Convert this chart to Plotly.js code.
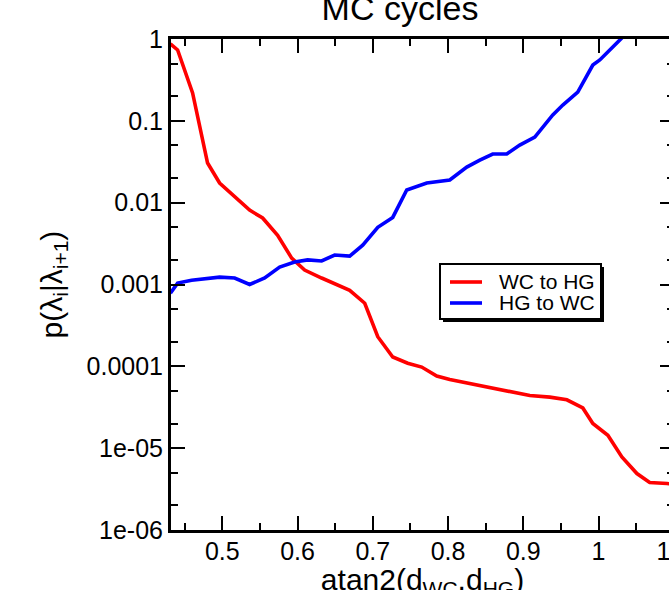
<!DOCTYPE html>
<html>
<head>
<meta charset="utf-8">
<script src="https://cdn.plot.ly/plotly-3.0.1.min.js"></script>
<style>html,body{margin:0;padding:0;overflow:hidden;background:#fff}</style>
</head>
<body>
<div id="chart" style="width:700px;height:600px"></div>
<script>
// WC to HG series
const wcX = [0.431,0.4406,0.4605,0.4738,0.4804,0.4964,0.5164,0.5363,0.5536,0.5735,0.5922,0.6094,0.632,0.6467,0.6693,0.6893,0.7066,0.7265,0.7464,0.765,0.785,0.8023,0.8382,0.8727,0.9087,0.9353,0.9579,0.9791,0.9924,1.0124,1.031,1.051,1.068,1.091,1.1];
const wcY = [0.87,0.734,0.219,0.0582,0.0305,0.0174,0.0117,0.0081,0.0065,0.0040,0.0021,0.0015,0.0012,0.00104,0.00085,0.00059,0.00023,0.00013,0.000109,9.8e-5,7.6e-5,6.9e-5,5.9e-5,5.2e-5,4.4e-5,4.2e-5,3.9e-5,3.1e-5,2.0e-5,1.44e-5,7.8e-6,4.9e-6,3.8e-6,3.7e-6,3.6e-6];
// HG to WC series
const hgX = [0.431,0.4406,0.4592,0.4964,0.5164,0.5363,0.5563,0.5762,0.5961,0.6134,0.632,0.6493,0.6693,0.6866,0.7066,0.7265,0.7451,0.7717,0.8023,0.8249,0.8422,0.8594,0.878,0.8953,0.9153,0.9392,0.9525,0.9724,0.9924,1.0017,1.0283,1.045];
const hgY = [0.000785,0.00104,0.00113,0.00123,0.0012,0.001,0.0012,0.00163,0.00188,0.002,0.00194,0.00229,0.00222,0.00303,0.005,0.0066,0.0143,0.0174,0.0189,0.0272,0.0331,0.0393,0.0393,0.0506,0.0634,0.118,0.156,0.225,0.481,0.554,0.972,1.4];

const seriesNames = ['WC to HG','HG to WC'];
const seriesColors = ['#ff0000','#0000ff'];
const xTickVals = [0.5,0.6,0.7,0.8,0.9,1.0,1.1];
const xTickText = ['0.5','0.6','0.7','0.8','0.9','1','1.1'];
const yTickVals = [1e-6,1e-5,1e-4,1e-3,1e-2,1e-1,1];
const yTickText = ['1e-06','1e-05','0.0001','0.001','0.01','0.1','1'];

const xRange = [0.4318, 1.1003];
const yRange = [-6, 0];

const traces = [
  {x: wcX, y: wcY, name: seriesNames[0], type: 'scatter', mode: 'lines', line: {color: seriesColors[0], width: 3.6}, showlegend: false},
  {x: hgX, y: hgY, name: seriesNames[1], type: 'scatter', mode: 'lines', line: {color: seriesColors[1], width: 3.6}, showlegend: false}
];

// pixel -> paper helpers for the legend box
const L = 171, W = 503, B = 530, H = 491;
const PX = p => (p - L) / W;
const PY = p => (B - p) / H;

const shapes = [
  {type: 'rect', xref: 'paper', yref: 'paper', x0: PX(443), x1: PX(604), y0: PY(322), y1: PY(267), fillcolor: '#000', line: {width: 0}},
  {type: 'rect', xref: 'paper', yref: 'paper', x0: PX(440), x1: PX(601), y0: PY(319), y1: PY(264), fillcolor: '#fff', line: {color: '#000', width: 2}},
  {type: 'line', xref: 'paper', yref: 'paper', x0: PX(450), x1: PX(482), y0: PY(282), y1: PY(282), line: {color: seriesColors[0], width: 3.6}},
  {type: 'line', xref: 'paper', yref: 'paper', x0: PX(450), x1: PX(482), y0: PY(303), y1: PY(303), line: {color: seriesColors[1], width: 3.6}}
];
const annotations = [
  {text: seriesNames[0], xref: 'paper', yref: 'paper', x: PX(497), y: PY(281), xanchor: 'left', yanchor: 'middle', showarrow: false, font: {size: 21}},
  {text: seriesNames[1], xref: 'paper', yref: 'paper', x: PX(497), y: PY(302), xanchor: 'left', yanchor: 'middle', showarrow: false, font: {size: 21}}
];

const layout = {
  width: 700, height: 600,
  margin: {l: 171, r: 26, t: 39, b: 70},
  paper_bgcolor: '#fff', plot_bgcolor: '#fff',
  font: {family: 'Liberation Sans, Arial, sans-serif', color: '#000'},
  title: {text: 'MC cycles', font: {size: 34}, x: 400/700, xref: 'container', xanchor: 'center', y: 1 - 20/600, yref: 'container', yanchor: 'bottom'},
  showlegend: false,
  shapes: shapes,
  annotations: annotations,
  xaxis: {
    range: xRange, tickmode: 'array', tickvals: xTickVals, ticktext: xTickText,
    ticks: 'inside', ticklen: 14, tickwidth: 2, tickcolor: '#000', layer: 'above traces',
    minor: {ticks: 'inside', ticklen: 7, tickwidth: 2, tickcolor: '#000', tick0: 0, dtick: 0.05},
    showline: true, linecolor: '#000', linewidth: 3, mirror: 'allticks', showgrid: false, zeroline: false,
    tickfont: {size: 25}, ticklabelstandoff: -3,
    title: {text: 'atan2(d<sub>WC</sub>,d<sub>HG</sub>)', font: {size: 30}, standoff: 6}
  },
  yaxis: {
    type: 'log', range: yRange, tickmode: 'array', tickvals: yTickVals, ticktext: yTickText,
    ticks: 'inside', ticklen: 14, tickwidth: 2, tickcolor: '#000', layer: 'above traces',
    minor: {ticks: 'inside', ticklen: 7, tickwidth: 2, tickcolor: '#000'},
    showline: true, linecolor: '#000', linewidth: 3, mirror: 'allticks', showgrid: false, zeroline: false,
    tickfont: {size: 25},
    title: {text: 'p(λ<sub>i</sub>|λ<sub>i+1</sub>)', font: {size: 30}, standoff: 16}
  }
};

Plotly.newPlot('chart', traces, layout, {displayModeBar: false, staticPlot: true});
</script>
</body>
</html>
